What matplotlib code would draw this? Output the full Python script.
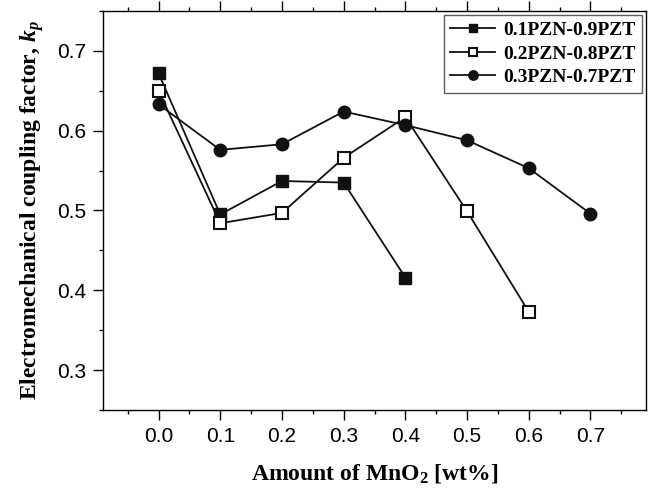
import matplotlib
matplotlib.use("Agg")
import matplotlib.pyplot as plt
from matplotlib.ticker import MultipleLocator

x1 = [0.0, 0.1, 0.2, 0.3, 0.4]
y1 = [0.672, 0.495, 0.537, 0.535, 0.416]
x2 = [0.0, 0.1, 0.2, 0.3, 0.4, 0.5, 0.6]
y2 = [0.650, 0.484, 0.497, 0.566, 0.617, 0.499, 0.373]
x3 = [0.0, 0.1, 0.2, 0.3, 0.4, 0.5, 0.6, 0.7]
y3 = [0.633, 0.576, 0.583, 0.624, 0.607, 0.588, 0.553, 0.496]
labels = ["0.1PZN-0.9PZT", "0.2PZN-0.8PZT", "0.3PZN-0.7PZT"]

plt.rcParams['mathtext.fontset'] = 'custom'
plt.rcParams['mathtext.rm'] = 'Liberation Serif:bold'
plt.rcParams['mathtext.bf'] = 'Liberation Serif:bold'
plt.rcParams['mathtext.it'] = 'Liberation Serif:bold:italic'

fig = plt.figure(figsize=(6.51, 4.90), dpi=100)
ax = fig.add_axes([103/651, 1-410/490, (646-103)/651, (410-11)/490])

ax.plot(x1, y1, '-', color='#111111', lw=1.3, marker='s', ms=8,
        mfc='#111111', mec='#111111', label=labels[0])
ax.plot(x2, y2, '-', color='#111111', lw=1.3, marker='s', ms=8,
        mfc='white', mec='#111111', mew=1.5, label=labels[1])
ax.plot(x3, y3, '-', color='#111111', lw=1.3, marker='o', ms=9,
        mfc='#111111', mec='#111111', label=labels[2])

ax.set_xlim(-0.09, 0.79)
ax.set_ylim(0.25, 0.75)
ax.xaxis.set_minor_locator(MultipleLocator(0.05))
ax.yaxis.set_minor_locator(MultipleLocator(0.05))
ax.set_xticks([0.0, 0.1, 0.2, 0.3, 0.4, 0.5, 0.6, 0.7])
ax.set_yticks([0.3, 0.4, 0.5, 0.6, 0.7])
ax.xaxis.set_major_formatter(plt.FuncFormatter(lambda v, p: f"{v:.1f}"))
ax.yaxis.set_major_formatter(plt.FuncFormatter(lambda v, p: f"{v:.1f}"))

ax.tick_params(which='major', direction='out', length=7, width=1.0,
               labelsize=15, pad=5)
ax.tick_params(which='minor', direction='out', length=3, width=1.0)
ax.tick_params(axis='x', which='both', top=True, labeltop=False)
for lab in ax.get_xticklabels() + ax.get_yticklabels():
    lab.set_fontfamily('Liberation Sans')
for s in ax.spines.values():
    s.set_linewidth(1.0)

ax.set_xlabel("Amount of MnO$_\\mathbf{2}$ [wt%]", fontsize=17,
              fontweight='bold', family='Liberation Serif', labelpad=12)
ax.set_ylabel("Electromechanical coupling factor, $\\mathit{k}_\\mathit{p}$",
              fontsize=17, fontweight='bold', family='Liberation Serif',
              labelpad=8)

leg = ax.legend(loc='upper right', prop={'family': 'Liberation Serif',
                'weight': 'bold', 'size': 14}, frameon=True, fancybox=False,
                edgecolor='#333333', handlelength=2.3, handletextpad=0.4,
                labelspacing=0.3, borderpad=0.35, borderaxespad=0.2,
                markerscale=0.75)
leg.get_frame().set_linewidth(1.0)

fig.savefig("out.png", dpi=100)
